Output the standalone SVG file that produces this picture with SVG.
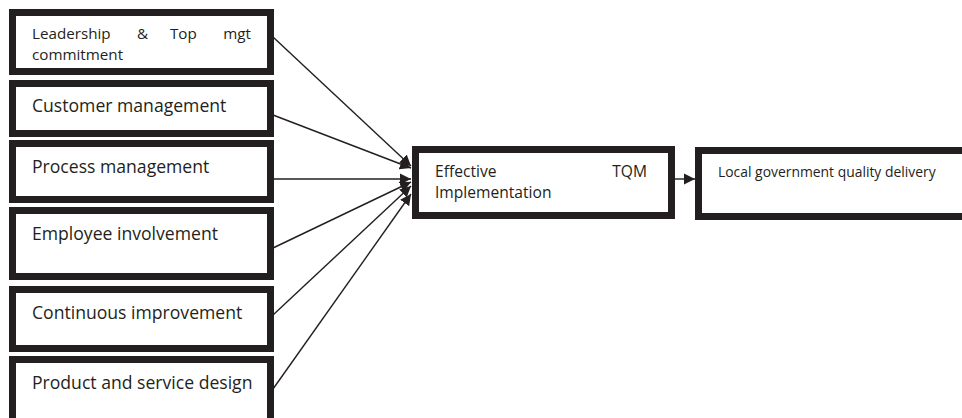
<svg xmlns="http://www.w3.org/2000/svg" width="962" height="418" viewBox="0 0 962 418">
<style>
.box{fill:#fff;stroke:#231f20;stroke-width:7}
.t{font-family:"Open Sans","Noto Sans",sans-serif;fill:#231f20}
.l{font-size:17.6px}
.s{font-size:15.2px}
.c{stroke:#231f20;stroke-width:1.4;fill:none;marker-end:url(#ah)}
</style>
<defs>
<marker id="ah" viewBox="0 0 10 10" refX="10" refY="5" markerWidth="11" markerHeight="12" markerUnits="userSpaceOnUse" orient="auto">
<path d="M0,0 L10,5 L0,10 Z" fill="#231f20"/>
</marker>
</defs>
<rect width="962" height="418" fill="#fff"/>
<g id="connectors">
<line class="c" x1="273" y1="37" x2="411" y2="166"/>
<line class="c" x1="273" y1="115" x2="411" y2="168"/>
<line class="c" x1="273" y1="179" x2="411" y2="179"/>
<line class="c" x1="273" y1="248" x2="411" y2="182"/>
<line class="c" x1="273" y1="315" x2="411" y2="186"/>
<line class="c" x1="273" y1="389" x2="411" y2="194"/>
<line class="c" x1="675" y1="179" x2="695" y2="179"/>
</g>
<g id="leadership">
<rect class="box" x="12.5" y="12.5" width="258" height="59"/>
<text class="t s" x="32" y="39">Leadership</text>
<text class="t s" x="137" y="39">&amp;</text>
<text class="t s" x="170" y="39">Top</text>
<text class="t s" x="251" y="39" text-anchor="end">mgt</text>
<text class="t s" x="32" y="60">commitment</text>
</g>
<g id="customer">
<rect class="box" x="12.5" y="83.5" width="258" height="50"/>
<text class="t l" x="32" y="112">Customer management</text>
</g>
<g id="process">
<rect class="box" x="12.5" y="143.5" width="258" height="56"/>
<text class="t l" x="32" y="173">Process management</text>
</g>
<g id="employee">
<rect class="box" x="12.5" y="210.5" width="258" height="66"/>
<text class="t l" x="32" y="240">Employee involvement</text>
</g>
<g id="continuous">
<rect class="box" x="12.5" y="289.5" width="258" height="59"/>
<text class="t l" x="32" y="319">Continuous improvement</text>
</g>
<g id="product">
<rect class="box" x="12.5" y="359.5" width="258" height="100"/>
<text class="t l" x="32" y="389">Product and service design</text>
</g>
<g id="tqm">
<rect class="box" x="415.5" y="149.5" width="256" height="66"/>
<text class="t" style="font-size:15.6px" x="435" y="177">Effective</text>
<text class="t" style="font-size:15.6px" x="647" y="177" text-anchor="end">TQM</text>
<text class="t" style="font-size:15.6px" x="435" y="198">Implementation</text>
</g>
<g id="local">
<rect class="box" x="698.5" y="150.5" width="300" height="66"/>
<text class="t" style="font-size:13.9px" x="718" y="177">Local government quality delivery</text>
</g>
</svg>
